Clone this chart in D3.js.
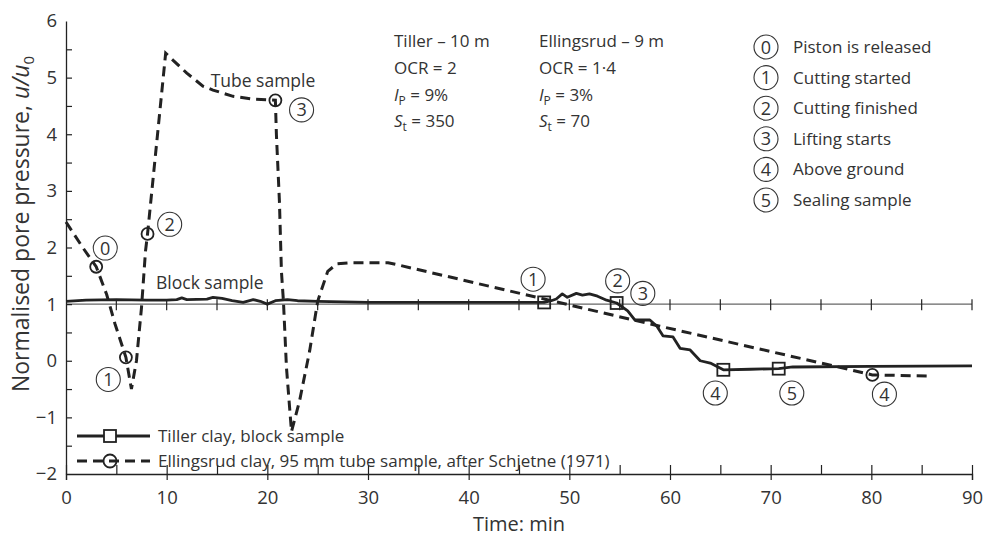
<!DOCTYPE html>
<html><head><meta charset="utf-8">
<script src="https://cdn.jsdelivr.net/npm/d3@7"></script>
<style>
body{margin:0;background:#fff;}
text{font-family:"Open Sans",sans-serif;fill:#333;}
</style></head>
<body><svg id="c" width="984" height="538"></svg>
<script>
// ---- data ----
const xTicks = [0,10,20,30,40,50,60,70,80,90];
const yTicks = [-2,-1,0,1,2,3,4,5,6];
// Tiller clay, block sample (solid)
const blockT = [0,2,5,8,10,11,11.5,12,14,14.6,15.5,16.5,17.6,18.6,19.3,20,20.8,22,23,25,30,40,47.5,48.2,48.7,49.3,49.8,50.7,51.3,52,52.8,53.7,54.7,55.8,56.5,58,58.7,59.3,60.3,61,62,63,64,65.3,68,70.8,72.2,80,90];
const blockV = [1.05,1.07,1.08,1.07,1.07,1.08,1.11,1.08,1.09,1.12,1.1,1.06,1.03,1.08,1.05,1.0,1.06,1.08,1.06,1.05,1.03,1.03,1.03,1.06,1.09,1.18,1.12,1.19,1.16,1.18,1.14,1.07,1.02,0.88,0.72,0.72,0.61,0.44,0.42,0.22,0.19,0.0,-0.04,-0.16,-0.15,-0.14,-0.11,-0.1,-0.09];
const blockMarkT = [47.5,54.7,65.3,70.8];
const blockMarkV = [1.03,1.02,-0.16,-0.14];
// Ellingsrud clay, tube sample (dashed)
const tubeT = [0,1.7,3.0,4.04,4.87,5.95,6.5,7.0,7.5,7.9,8.1,9.9,12.0,13.6,14.6,16.6,18.6,20.8,20.9,21.2,21.4,21.6,21.9,22.4,23.2,24.2,25.0,26.0,26.9,28.2,32,32.8,47.5,59,76.2,80.1,85.6];
const tubeV = [2.45,1.99,1.66,1.17,0.65,0.06,-0.5,0.0,0.94,1.94,2.24,5.43,5.08,4.85,4.78,4.67,4.62,4.6,4.0,2.82,1.58,1.05,-0.12,-1.25,-0.71,0.17,1.05,1.58,1.71,1.73,1.73,1.70,1.09,0.61,-0.09,-0.25,-0.27];
const tubeMarkT = [3.0,5.95,8.1,20.8,80.1];
const tubeMarkV = [1.66,0.06,2.24,4.6,-0.25];
// circled stage numbers near the curves
const stageNum = ["0","1","2","3","1","2","3","4","5","4"];
const stageT = [3.9,4.2,10.3,23.4,46.4,54.8,57.3,64.5,72.1,81.3];
const stageV = [1.99,-0.33,2.41,4.43,1.44,1.41,1.19,-0.57,-0.57,-0.59];
// stage key
const keyNum = ["0","1","2","3","4","5"];
const keyText = ["Piston is released","Cutting started","Cutting finished","Lifting starts","Above ground","Sealing sample"];
const legendNames = ["Tiller clay, block sample","Ellingsrud clay, 95 mm tube sample, after Schjetne (1971)"];

// ---- chart ----
const svg = d3.select("#c");
const x = d3.scaleLinear().domain([0,90]).range([66,972]);
const y = d3.scaleLinear().domain([-2,6]).range([474,21]);
const ink = "#222";

// reference line at u/u0 = 1
svg.append("line").attr("x1",x(0)).attr("x2",x(90)).attr("y1",y(1)).attr("y2",y(1))
  .attr("stroke","#666").attr("stroke-width",1.3);
svg.append("g").selectAll("line").data(d3.range(5,91,5)).join("line")
  .attr("x1",d=>x(d)).attr("x2",d=>x(d)).attr("y1",y(1)-5).attr("y2",y(1)+6)
  .attr("stroke",ink).attr("stroke-width",1.2);

// axes
const gx = svg.append("g").attr("transform",`translate(0,${y(-2)})`)
  .call(d3.axisBottom(x).tickValues(xTicks).tickSize(6).tickPadding(11));
gx.selectAll(".tick line").attr("y1",-9);
svg.append("g").attr("transform",`translate(0,${y(-2)})`)
  .call(d3.axisTop(x).tickValues(d3.range(5,90,10)).tickSize(9).tickFormat(""))
  .select(".domain").remove();
const gy = svg.append("g").attr("transform",`translate(${x(0)},0)`)
  .call(d3.axisLeft(y).tickValues(yTicks).tickSize(0).tickPadding(9).tickFormat(d=>d<0?"\u2212"+Math.abs(d):d));
svg.append("g").attr("transform",`translate(${x(0)},0)`)
  .call(d3.axisRight(y).tickValues(d3.range(-1.5,6,0.5)).tickSize(6).tickFormat(""))
  .select(".domain").remove();
[gx,gy].forEach(g=>{
  g.select(".domain").attr("stroke",ink).attr("stroke-width",1.3);
  g.selectAll(".tick text").attr("font-size",18.5).attr("fill","#333").attr("font-family","Open Sans");
});
svg.selectAll(".tick line").attr("stroke",ink).attr("stroke-width",1.2);

// axis titles
svg.append("text").attr("x",519).attr("y",531).attr("text-anchor","middle").attr("font-size",20).text("Time: min");
const yl = svg.append("text").attr("transform","translate(29,224) rotate(-90)").attr("text-anchor","middle").attr("font-size",23);
yl.append("tspan").text("Normalised pore pressure, ");
yl.append("tspan").attr("font-style","italic").text("u/u");
yl.append("tspan").attr("font-size",15).attr("dy",5).text("0");

// lines
const line = d3.line().x(d=>x(d[0])).y(d=>y(d[1]));
svg.append("path").datum(tubeT.map((t,i)=>[t,tubeV[i]])).attr("d",line)
  .attr("fill","none").attr("stroke",ink).attr("stroke-width",3).attr("stroke-dasharray","10,6");
svg.append("path").datum(blockT.map((t,i)=>[t,blockV[i]])).attr("d",line)
  .attr("fill","none").attr("stroke",ink).attr("stroke-width",2.8).attr("stroke-linejoin","round");

// markers
svg.append("g").selectAll("rect").data(blockMarkT.map((t,i)=>[t,blockMarkV[i]])).join("rect")
  .attr("x",d=>x(d[0])-6).attr("y",d=>y(d[1])-6).attr("width",12).attr("height",12)
  .attr("fill","none").attr("stroke",ink).attr("stroke-width",1.8);
svg.append("g").selectAll("circle").data(tubeMarkT.map((t,i)=>[t,tubeMarkV[i]])).join("circle")
  .attr("cx",d=>x(d[0])).attr("cy",d=>y(d[1])).attr("r",6)
  .attr("fill","none").attr("stroke",ink).attr("stroke-width",1.8);

// circled numbers
function circled(g,cx,cy,num){
  g.append("circle").attr("cx",cx).attr("cy",cy).attr("r",12).attr("fill","none").attr("stroke","#333").attr("stroke-width",1.1);
  g.append("text").attr("x",cx).attr("y",cy+6.5).attr("text-anchor","middle").attr("font-size",18).text(num);
}
const sg = svg.append("g");
stageNum.forEach((n,i)=>circled(sg,x(stageT[i]),y(stageV[i]),n));

// curve labels
svg.append("text").attr("x",263).attr("y",87).attr("text-anchor","middle").attr("font-size",17.5).text("Tube sample");
svg.append("text").attr("x",156).attr("y",289).attr("font-size",17.5).text("Block sample");

// soil properties
function props(x0, head, ocr, ip, st){
  svg.append("text").attr("x",x0).attr("y",47).attr("font-size",17).text(head);
  svg.append("text").attr("x",x0).attr("y",74).attr("font-size",17).text(ocr);
  const t1 = svg.append("text").attr("x",x0).attr("y",101).attr("font-size",17);
  t1.append("tspan").attr("font-style","italic").text("I");
  t1.append("tspan").attr("font-size",12).attr("dy",4).text("P");
  t1.append("tspan").attr("dy",-4).text(" = "+ip);
  const t2 = svg.append("text").attr("x",x0).attr("y",127).attr("font-size",17);
  t2.append("tspan").attr("font-style","italic").text("S");
  t2.append("tspan").attr("font-size",12).attr("dy",4).text("t");
  t2.append("tspan").attr("dy",-4).text(" = "+st);
}
props(394,"Tiller \u2013 10 m","OCR = 2","9%","350");
props(539,"Ellingsrud \u2013 9 m","OCR = 1\u00b74","3%","70");

// stage key
const kg = svg.append("g");
keyNum.forEach((n,i)=>{
  const cy = 47 + i*30.6;
  circled(kg,766,cy,n);
  kg.append("text").attr("x",793).attr("y",cy+6).attr("font-size",17).text(keyText[i]);
});

// legend
const lg = svg.append("g");
legendNames.forEach((name,i)=>{
  const ly = 436 + i*25;
  lg.append("line").attr("x1",77).attr("x2",150).attr("y1",ly).attr("y2",ly)
    .attr("stroke",ink).attr("stroke-width",3).attr("stroke-dasharray",i?"10,6":null);
  if(i===0) lg.append("rect").attr("x",104).attr("y",ly-6).attr("width",12).attr("height",12).attr("fill","#fff").attr("stroke",ink).attr("stroke-width",1.8);
  else lg.append("circle").attr("cx",110).attr("cy",ly).attr("r",6.5).attr("fill","none").attr("stroke",ink).attr("stroke-width",1.8);
  lg.append("text").attr("x",158).attr("y",ly+6).attr("font-size",17).text(name);
});
</script></body></html>
